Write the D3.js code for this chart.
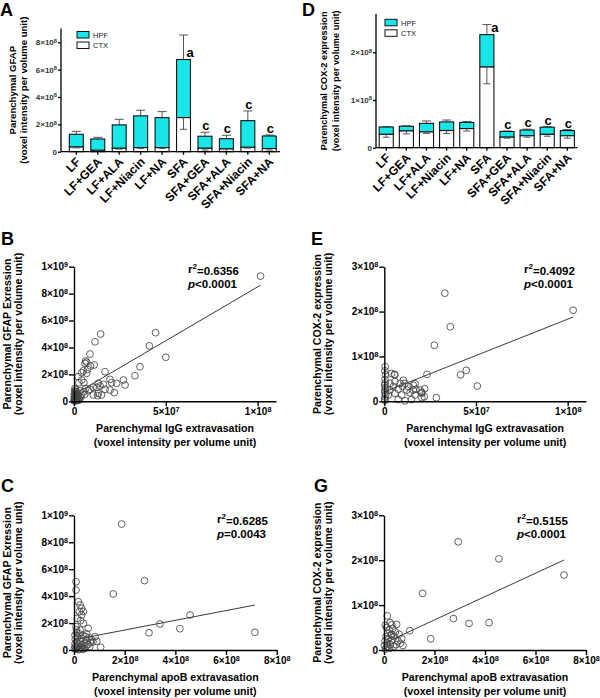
<!DOCTYPE html>
<html><head><meta charset="utf-8">
<script src="https://cdn.jsdelivr.net/npm/d3@7"></script>
<style>
body{margin:0;background:#fff}
svg{font-family:Arial,"Liberation Sans",sans-serif;font-weight:bold}
</style>
</head><body>
<svg id="c" width="600" height="698"></svg>
<script>
// ---------------- DATA ----------------
const groups = ["LF","LF+GEA","LF+ALA","LF+Niacin","LF+NA","SFA","SFA+GEA","SFA+ALA","SFA+Niacin","SFA+NA"];
const sigLetters = ["","","","","","a","c","c","c","c"];

// Panel A: parenchymal GFAP (stacked CTX + HPF)
const gfapCTX      = [0.34e8,0.10e8,0.25e8,0.30e8,0.30e8,2.49e8,0.25e8,0.20e8,0.32e8,0.23e8];
const gfapTotal    = [1.27e8,0.93e8,1.96e8,2.62e8,2.49e8,6.74e8,1.13e8,0.95e8,2.27e8,1.15e8];
const gfapErrTop   = [1.49e8,1.05e8,2.37e8,3.03e8,2.93e8,8.53e8,1.42e8,1.20e8,2.98e8,1.22e8];
const gfapCTXErrLo = [0.28e8,0.06e8,0.19e8,0.24e8,0.24e8,1.64e8,0.12e8,0.02e8,0.26e8,0.12e8];
const gfapTicks = [0,2e8,4e8,6e8,8e8];
const gfapTickLabels = ["0","2×10^8","4×10^8","6×10^8","8×10^8"];

// Panel D: parenchymal COX-2 (stacked CTX + HPF)
const coxCTX      = [0.28e8,0.35e8,0.33e8,0.36e8,0.40e8,1.69e8,0.22e8,0.25e8,0.28e8,0.25e8];
const coxTotal    = [0.434e8,0.45e8,0.51e8,0.54e8,0.53e8,2.37e8,0.34e8,0.37e8,0.43e8,0.36e8];
const coxErrTop   = [0.44e8,0.46e8,0.56e8,0.58e8,0.55e8,2.58e8,0.35e8,0.39e8,0.44e8,0.38e8];
const coxCTXErrLo = [0.22e8,0.29e8,0.30e8,0.30e8,0.35e8,1.34e8,0.20e8,0.22e8,0.24e8,0.20e8];
const coxTicks = [0,1e8,2e8];
const coxTickLabels = ["0","1×10^8","2×10^8"];

const legendNames = ["HPF","CTX"];

// Panel B: GFAP vs IgG
const bX = [10.16e7,4.44e7,4.1e7,5.0e7,3.59e7,3.32e7,1.45e7,1.14e7,0.87e7,0.64e7,0.69e7,0.6e7,1.1e7,0.9e7,0.74e7,0.51e7,0.42e7,1.69e7,0.69e7,0.23e7,
  0.42e7,0.54e7,0.27e7,1.96e7,2.05e7,2.32e7,2.69e7,2.78e7,2.19e7,1.6e7,1.32e7,1.42e7,1.24e7,1.05e7,0.87e7,0.64e7,0.78e7,0.51e7,0.33e7,1.69e7,
  1.96e7,1.32e7,1.5e7,1.29e7,1.05e7,0.58e7,0.4e7,0.2e7,0.35e7,0.15e7,
  0.05e7,0.1e7,0.03e7,0.12e7,0.06e7,0.02e7,0.1e7,0.04e7,0.08e7,0.02e7,0.12e7,0.05e7,0.02e7,0.09e7,0.03e7,0.06e7,0.01e7,0.04e7,0.1e7,0.15e7,0.2e7,0.25e7,0.18e7,0.3e7];
const bY = [9.3e8,5.1e8,4.12e8,3.27e8,2.57e8,1.9e8,5.0e8,4.42e8,3.51e8,3.0e8,2.9e8,2.82e8,2.7e8,2.62e8,2.37e8,2.27e8,2.12e8,2.2e8,2.08e8,1.83e8,
  1.58e8,1.38e8,1.38e8,1.63e8,1.38e8,1.33e8,1.58e8,1.21e8,0.64e8,1.26e8,1.34e8,1.14e8,1.04e8,1.04e8,0.89e8,0.96e8,0.79e8,0.71e8,0.79e8,0.89e8,
  0.84e8,0.59e8,0.47e8,0.42e8,0.47e8,0.5e8,0.45e8,0.4e8,0.3e8,0.6e8,
  0.95e8,0.85e8,0.75e8,0.7e8,0.62e8,0.55e8,0.5e8,0.45e8,0.38e8,0.33e8,0.28e8,0.25e8,0.2e8,0.16e8,0.12e8,0.08e8,0.05e8,0.02e8,0.1e8,0.2e8,0.12e8,0.22e8,0.05e8,0.1e8];
const bFit = {intercept:0.5e8, slope:8.0};
const bStats = ["0.6356","<0.0001"];

// Panel E: COX-2 vs IgG
const eX = [10.3e7,3.3e7,3.6e7,2.73e7,4.16e7,4.47e7,5.07e7,2.84e7,2.33e7,2.2e7,2.05e7,1.68e7,1.72e7,2.05e7,
  0.4e7,0.58e7,1.04e7,1.13e7,1.0e7,0.86e7,0.58e7,0.31e7,0.49e7,0.76e7,0.31e7,0.58e7,0.22e7,0.95e7,1.22e7,1.4e7,1.58e7,1.67e7,1.95e7,2.04e7,1.49e7,1.13e7,0.76e7,1.31e7,1.58e7,2.18e7,0.55e7,
  0.05e7,0.03e7,0.06e7,0.04e7,0.05e7,0.02e7,0.06e7,0.04e7,0.03e7,0.07e7,0.05e7,0.02e7,0.04e7];
const eY = [2.03e8,2.41e8,1.66e8,1.25e8,0.59e8,0.69e8,0.34e8,0.08e8,0.6e8,0.28e8,0.2e8,0.39e8,0.27e8,0.08e8,
  0.62e8,0.59e8,0.47e8,0.4e8,0.33e8,0.4e8,0.44e8,0.4e8,0.33e8,0.27e8,0.25e8,0.18e8,0.14e8,0.14e8,0.25e8,0.19e8,0.25e8,0.14e8,0.25e8,0.18e8,0.04e8,0.01e8,0.04e8,0.33e8,0.36e8,0.1e8,0.6e8,
  0.77e8,0.68e8,0.59e8,0.49e8,0.41e8,0.36e8,0.3e8,0.25e8,0.2e8,0.15e8,0.1e8,0.05e8,0.02e8];
const eFit = {intercept:0.21e8, slope:1.62};
const eStats = ["0.4092","<0.0001"];

// Panel C: GFAP vs apoB
const cX = [1.88e8,2.78e8,1.55e8,4.58e8,3.39e8,2.96e8,4.18e8,7.14e8,1.05e8,0.08e8,0.08e8,
  0.17e8,0.24e8,0.3e8,0.21e8,0.3e8,0.37e8,0.13e8,0.26e8,0.37e8,0.08e8,0.24e8,0.56e8,0.83e8,
  0.1e8,0.2e8,0.35e8,0.45e8,0.6e8,0.7e8,0.15e8,0.3e8,0.5e8,0.65e8,0.05e8,0.25e8,0.4e8,0.55e8,0.75e8,0.1e8,0.2e8,0.32e8,0.48e8,0.62e8,0.04e8,0.15e8,0.28e8,0.42e8,0.05e8,0.12e8,0.22e8,0.35e8,0.02e8,0.08e8,0.18e8,0.3e8,0.04e8,0.1e8,0.5e8,0.9e8];
const cY = [9.35e8,5.15e8,4.16e8,2.6e8,1.93e8,1.28e8,1.58e8,1.31e8,0.2e8,5.07e8,4.45e8,
  3.59e8,3.34e8,3.09e8,2.85e8,2.6e8,2.85e8,2.35e8,2.18e8,1.98e8,1.73e8,1.48e8,1.61e8,0.99e8,
  1.3e8,1.2e8,1.1e8,1.0e8,0.9e8,0.75e8,0.95e8,0.85e8,0.7e8,0.55e8,0.8e8,0.65e8,0.5e8,0.4e8,0.6e8,0.6e8,0.45e8,0.35e8,0.3e8,0.25e8,0.45e8,0.3e8,0.2e8,0.12e8,0.25e8,0.15e8,0.08e8,0.05e8,0.1e8,0.05e8,0.02e8,0.15e8,1.1e8,1.5e8,1.2e8,0.65e8];
const cFit = {intercept:0.76e8, slope:0.361};
const cStats = ["0.6285","=0.0043"];

// Panel G: COX-2 vs apoB
const gX = [2.94e8,4.55e8,7.13e8,1.53e8,2.75e8,3.37e8,4.16e8,1.85e8,1.02e8,0.13e8,0.24e8,0.3e8,0.5e8,
  0.05e8,0.1e8,0.2e8,0.35e8,0.45e8,0.6e8,0.7e8,0.15e8,0.28e8,0.4e8,0.55e8,0.65e8,0.08e8,0.18e8,0.32e8,0.48e8,0.75e8,0.04e8,0.12e8,0.25e8,0.38e8,0.02e8,0.1e8,0.22e8,0.06e8,0.16e8,0.3e8];
const gY = [2.41e8,2.03e8,1.67e8,1.26e8,0.7e8,0.59e8,0.61e8,0.25e8,0.43e8,0.76e8,0.61e8,0.56e8,0.57e8,
  0.55e8,0.5e8,0.45e8,0.48e8,0.4e8,0.35e8,0.25e8,0.38e8,0.33e8,0.3e8,0.2e8,0.15e8,0.3e8,0.25e8,0.22e8,0.12e8,0.1e8,0.2e8,0.15e8,0.12e8,0.08e8,0.1e8,0.06e8,0.04e8,0.02e8,0.08e8,0.35e8];
const gFit = {intercept:0.15e8, slope:0.26};
const gStats = ["0.5155","<0.0001"];

const iggTicks = [0,5e7,1e8], iggTickLabels = ["0","5×10^7","1×10^8"];
const apoTicks = [0,2e8,4e8,6e8,8e8], apoTickLabels = ["0","2×10^8","4×10^8","6×10^8","8×10^8"];
const gfapScTicks = [0,2e8,4e8,6e8,8e8,1e9], gfapScTickLabels = ["0","2×10^8","4×10^8","6×10^8","8×10^8","1×10^9"];
const coxScTicks = [0,1e8,2e8,3e8], coxScTickLabels = ["0","1×10^8","2×10^8","3×10^8"];

// ---------------- DRAW ----------------
const CYAN = "#19e6e8";
const svg = d3.select("#c");

function supText(sel, labels){
  sel.each(function(d,i){
    const t = d3.select(this); t.text(null);
    const [b,e] = labels[i].split("^");
    t.append("tspan").text(b);
    if(e) t.append("tspan").attr("dy","-0.45em").attr("font-size","0.72em").text(e);
  });
}
function styleAxis(g, sw){
  g.attr("font-family",null).attr("font-size",null);
  g.select(".domain").attr("stroke","#000").attr("stroke-width",sw);
  g.selectAll(".tick line").attr("stroke","#000").attr("stroke-width",sw);
}

function barPanel(o){
  const g = svg.append("g");
  const y = d3.scaleLinear().domain([0,o.yMax]).range([o.yBottom,o.yTop]);
  const x = d3.scaleBand().domain(groups).range([o.xStart,o.xEnd]).padding(0);
  const bw = x.bandwidth()*o.barFrac;
  const cx = d => x(d)+x.bandwidth()/2;

  const eg = g.append("g").attr("stroke","#555").attr("stroke-width",1);
  groups.forEach((d,i)=>{
    eg.append("line").attr("x1",cx(d)).attr("x2",cx(d)).attr("y1",y(o.total[i])).attr("y2",y(o.errTop[i]));
    eg.append("line").attr("x1",cx(d)-4.5).attr("x2",cx(d)+4.5).attr("y1",y(o.errTop[i])).attr("y2",y(o.errTop[i]));
  });
  groups.forEach((d,i)=>{
    g.append("rect").attr("x",cx(d)-bw/2).attr("width",bw)
      .attr("y",y(o.total[i])).attr("height",y(o.ctx[i])-y(o.total[i]))
      .attr("fill",CYAN).attr("stroke","#111").attr("stroke-width",1.1);
    g.append("rect").attr("x",cx(d)-bw/2).attr("width",bw)
      .attr("y",y(o.ctx[i])).attr("height",y(0)-y(o.ctx[i]))
      .attr("fill","#fff").attr("stroke","#111").attr("stroke-width",1.1);
  });
  const eg2 = g.append("g").attr("stroke","#555").attr("stroke-width",1);
  groups.forEach((d,i)=>{
    eg2.append("line").attr("x1",cx(d)).attr("x2",cx(d)).attr("y1",y(o.ctx[i])).attr("y2",y(o.ctxLo[i]));
    eg2.append("line").attr("x1",cx(d)-3.5).attr("x2",cx(d)+3.5).attr("y1",y(o.ctxLo[i])).attr("y2",y(o.ctxLo[i]));
  });
  groups.forEach((d,i)=>{
    if(!sigLetters[i]) return;
    const isA = sigLetters[i]==="a";
    g.append("text").attr("x", isA ? cx(d)+o.aDx : cx(d)+1)
      .attr("y", isA ? y(o.total[i])-3 : y(o.errTop[i])-2)
      .attr("text-anchor","middle").attr("font-size",13).text(sigLetters[i]);
  });
  const ya = g.append("g").attr("transform",`translate(${o.axisX},0)`)
    .call(d3.axisLeft(y).tickValues(o.ticks).tickSize(3).tickPadding(1).tickSizeOuter(0));
  styleAxis(ya,1.3);
  ya.select(".domain").attr("d",`M0,${y(0)}V${o.yTop}`);
  supText(ya.selectAll(".tick text").attr("font-size",8).attr("fill","#333"), o.tickLabels);
  const xa = g.append("g").attr("transform",`translate(0,${y(0)})`)
    .call(d3.axisBottom(x).tickSize(3).tickSizeOuter(0));
  styleAxis(xa,1.3);
  xa.select(".domain").attr("d",`M${o.axisX},0H${o.xEnd}`);
  xa.selectAll(".tick text").attr("font-size",12).attr("fill","#000")
    .attr("text-anchor","end").attr("dy","0.35em")
    .attr("transform","translate(2,8) rotate(-45)").attr("y",0);
  o.title.forEach((t,k)=>{
    g.append("text").attr("transform",`translate(${o.titleX[k]},${(o.yBottom+o.yTop)/2}) rotate(-90)`)
      .attr("text-anchor","middle").attr("font-size",o.titleFs).text(t);
  });
  legendNames.forEach((n,k)=>{
    const ly = o.legY + k*10.5;
    g.append("rect").attr("x",o.legX).attr("y",ly).attr("width",12).attr("height",6.5)
      .attr("fill",k===0?CYAN:"#fff").attr("stroke","#111").attr("stroke-width",1);
    g.append("text").attr("x",o.legX+16).attr("y",ly+6.3).attr("font-size",7.5)
      .attr("font-weight","normal").attr("fill","#222").text(n);
  });
  g.append("text").attr("x",o.letterX).attr("y",o.letterY).attr("font-size",18).text(o.letter);
}

barPanel({axisX:61,xStart:65.6,xEnd:280,yBottom:151.7,yTop:28.6,yMax:9e8,barFrac:0.65,
  ctx:gfapCTX,total:gfapTotal,errTop:gfapErrTop,ctxLo:gfapCTXErrLo,ticks:gfapTicks,tickLabels:gfapTickLabels,
  aDx:6.5,title:["Parenchymal GFAP","(voxel intensity per volume unit)"],titleX:[16,27],titleFs:9.6,
  legX:77,legY:31.5,letter:"A",letterX:0,letterY:16});
barPanel({axisX:376,xStart:376.2,xEnd:577.4,yBottom:147.7,yTop:14.1,yMax:2.8e8,barFrac:0.7,
  ctx:coxCTX,total:coxTotal,errTop:coxErrTop,ctxLo:coxCTXErrLo,ticks:coxTicks,tickLabels:coxTickLabels,
  aDx:8,title:["Parenchymal COX-2 expression","(voxel intensity per volume unit)"],titleX:[327,339],titleFs:9.2,
  legX:385,legY:19.3,letter:"D",letterX:302,letterY:16});

function scatterPanel(o){
  const g = svg.append("g");
  const x = d3.scaleLinear().domain([0,o.xMax]).range([o.ox,o.xEnd]);
  const y = d3.scaleLinear().domain([0,o.yMax]).range([o.oy,o.yTop]);
  const xMaxData = d3.max(o.xs);
  g.append("line").attr("x1",x(0)).attr("y1",y(o.fit.intercept))
    .attr("x2",x(xMaxData)).attr("y2",y(o.fit.intercept+o.fit.slope*xMaxData))
    .attr("stroke","#222").attr("stroke-width",0.9);
  g.append("g").selectAll("circle").data(o.xs.map((v,i)=>[v,o.ys[i]])).join("circle")
    .attr("cx",d=>x(d[0])).attr("cy",d=>y(d[1])).attr("r",3.4)
    .attr("fill","none").attr("stroke","#444").attr("stroke-width",0.85);
  const ya = g.append("g").attr("transform",`translate(${o.ox},0)`)
    .call(d3.axisLeft(y).tickValues(o.yTicks).tickSize(5).tickPadding(1).tickSizeOuter(0));
  styleAxis(ya,1.4);
  supText(ya.selectAll(".tick text").attr("font-size",10).attr("fill","#000"), o.yTickLabels);
  const xa = g.append("g").attr("transform",`translate(0,${o.oy})`)
    .call(d3.axisBottom(x).tickValues(o.xTicks).tickSize(5).tickPadding(2).tickSizeOuter(0));
  styleAxis(xa,1.4);
  supText(xa.selectAll(".tick text").attr("font-size",10).attr("fill","#000"), o.xTickLabels);
  o.yTitle.forEach((t,k)=>{
    g.append("text").attr("transform",`translate(${o.ox-o.yTitleDx[k]},${(o.oy+o.yTop)/2}) rotate(-90)`)
      .attr("text-anchor","middle").attr("font-size",10.6).text(t);
  });
  o.xTitle.forEach((t,k)=>{
    g.append("text").attr("x",(o.ox+o.xEnd)/2).attr("y",o.oy+31+k*13.5)
      .attr("text-anchor","middle").attr("font-size",10.6).text(t);
  });
  const st = g.append("text").attr("x",o.statX).attr("y",o.statY).attr("font-size",11.5);
  st.append("tspan").text("r");
  st.append("tspan").attr("dy","-0.45em").attr("font-size","0.7em").text("2");
  st.append("tspan").attr("dy","0.45em").text("="+o.stats[0]);
  st.append("tspan").attr("x",o.statX).attr("dy","1.2em").attr("font-style","italic").text("p");
  st.append("tspan").text(o.stats[1]);
  g.append("text").attr("x",o.letterX).attr("y",o.letterY).attr("font-size",18).text(o.letter);
}

const yT1 = ["Parenchymal GFAP Exression","(voxel intensity per volume unit)"];
const yT2 = ["Parenchymal COX-2 expression","(voxel intensity per volume unit)"];
const xT1 = ["Parenchymal IgG extravasation","(voxel intensity per volume unit)"];
const xT2 = ["Parenchymal apoB extravasation","(voxel intensity per volume unit)"];

scatterPanel({ox:74,oy:401.3,xEnd:276,yTop:266.7,xMax:1.1e8,yMax:1e9,xs:bX,ys:bY,fit:bFit,
  xTicks:iggTicks,xTickLabels:iggTickLabels,yTicks:gfapScTicks,yTickLabels:gfapScTickLabels,
  yTitle:yT1,yTitleDx:[63,52],xTitle:xT1,stats:bStats,statX:188,statY:273,letter:"B",letterX:1,letterY:245});
scatterPanel({ox:384.3,oy:401.3,xEnd:586,yTop:266.7,xMax:1.1e8,yMax:3e8,xs:eX,ys:eY,fit:eFit,
  xTicks:iggTicks,xTickLabels:iggTickLabels,yTicks:coxScTicks,yTickLabels:coxScTickLabels,
  yTitle:yT2,yTitleDx:[63,52],xTitle:xT1,stats:eStats,statX:524,statY:273,letter:"E",letterX:311,letterY:245});
scatterPanel({ox:74,oy:650,xEnd:276.7,yTop:515.3,xMax:8e8,yMax:1e9,xs:cX,ys:cY,fit:cFit,
  xTicks:apoTicks,xTickLabels:apoTickLabels,yTicks:gfapScTicks,yTickLabels:gfapScTickLabels,
  yTitle:yT1,yTitleDx:[63,52],xTitle:xT2,stats:cStats,statX:217,statY:523,letter:"C",letterX:1,letterY:492});
scatterPanel({ox:384,oy:650,xEnd:586,yTop:515.3,xMax:8e8,yMax:3e8,xs:gX,ys:gY,fit:gFit,
  xTicks:apoTicks,xTickLabels:apoTickLabels,yTicks:coxScTicks,yTickLabels:coxScTickLabels,
  yTitle:yT2,yTitleDx:[63,52],xTitle:xT2,stats:gStats,statX:517,statY:523,letter:"G",letterX:314,letterY:492});
</script>
</body></html>
